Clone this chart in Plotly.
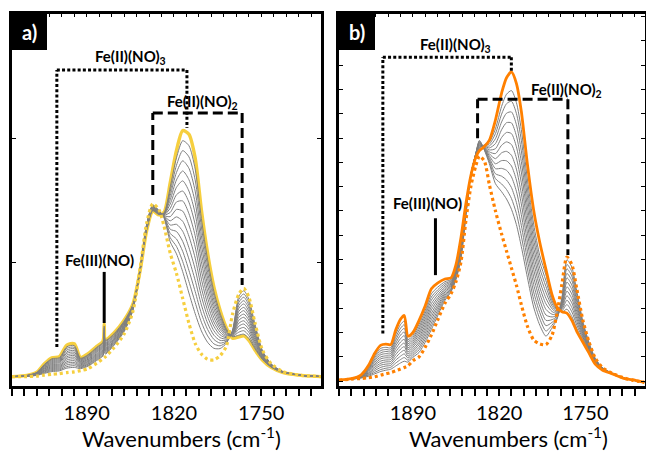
import plotly.graph_objects as go

W, H = 646, 452

# ---------------- panel a: Fe/zeolite under NO, yellow series ----------------
wn_a = [1950, 1938, 1930, 1924, 1918, 1912, 1906, 1900, 1895, 1889, 1882, 1877, 1876, 1875,
        1868, 1860, 1853, 1847, 1842, 1837, 1832, 1828, 1823, 1818, 1813, 1808, 1803, 1798,
        1793, 1788, 1783, 1778, 1773, 1768, 1764, 1760, 1755, 1749, 1742, 1733, 1720, 1702]

init_a = [3.8, 3.8, 4.0, 4.4, 4.7, 5.0, 5.4, 5.7, 6.2, 7.0, 9.2, 11.0, 11.4, 11.8,
          15.5, 21.0, 30.0, 48.0, 65.5, 73.5, 71.0, 64.5, 53.5, 45.4, 35.3, 25.3, 17.2, 12.9,
          10.8, 10.5, 12.2, 16.0, 29.0, 37.0, 39.4, 36.0, 25.5, 14.5, 9.0, 5.9, 4.4, 3.8]

final_a = [3.8, 4.3, 5.6, 9.0, 11.4, 11.8, 16.5, 17.0, 11.5, 13.0, 16.0, 18.0, 25.0, 18.8,
           21.5, 26.5, 33.0, 47.0, 62.5, 70.5, 69.0, 70.0, 82.0, 95.0, 103.0, 101.5, 92.0, 71.0,
           53.5, 40.0, 30.5, 23.5, 19.3, 19.8, 20.2, 18.5, 14.5, 10.5, 7.5, 5.5, 4.4, 3.8]

# one row per wavenumber of wn_a, one column per intermediate spectrum
gray_a_rows = [
    [3.8, 3.8, 3.8, 3.8, 3.8, 3.8, 3.8, 3.8, 3.8, 3.8, 3.8, 3.8, 3.8, 3.8],
    [3.9, 3.9, 4.0, 4.0, 4.0, 4.0, 4.1, 4.1, 4.1, 4.2, 4.2, 4.2, 4.2, 4.3],
    [4.3, 4.4, 4.4, 4.5, 4.6, 4.7, 4.8, 4.9, 5.0, 5.1, 5.2, 5.3, 5.4, 5.5],
    [5.1, 5.4, 5.7, 6.0, 6.2, 6.5, 6.8, 7.1, 7.3, 7.6, 7.9, 8.2, 8.5, 8.7],
    [5.8, 6.2, 6.6, 7.0, 7.4, 7.8, 8.2, 8.6, 9.0, 9.4, 9.8, 10.2, 10.6, 11.0],
    [6.1, 6.5, 6.9, 7.3, 7.7, 8.1, 8.5, 8.9, 9.4, 9.8, 10.2, 10.6, 11.0, 11.4],
    [7.2, 7.8, 8.5, 9.2, 9.8, 10.5, 11.2, 11.8, 12.5, 13.2, 13.8, 14.5, 15.2, 15.8],
    [7.5, 8.2, 8.9, 9.5, 10.2, 10.9, 11.6, 12.3, 12.9, 13.6, 14.3, 15.0, 15.6, 16.3],
    [7.0, 7.4, 7.7, 8.0, 8.3, 8.6, 9.0, 9.3, 9.6, 9.9, 10.2, 10.6, 10.9, 11.2],
    [8.0, 8.3, 8.7, 9.0, 9.4, 9.8, 10.1, 10.5, 10.8, 11.2, 11.6, 11.9, 12.3, 12.6],
    [10.3, 10.7, 11.1, 11.5, 11.9, 12.3, 12.7, 13.1, 13.6, 14.0, 14.4, 14.8, 15.2, 15.6],
    [12.1, 12.5, 13.0, 13.4, 13.8, 14.2, 14.6, 15.1, 15.5, 15.9, 16.3, 16.7, 17.2, 17.6],
    [13.6, 14.4, 15.2, 16.0, 16.8, 17.7, 18.5, 19.3, 20.1, 20.9, 21.7, 22.6, 23.4, 24.2],
    [12.9, 13.3, 13.8, 14.2, 14.6, 15.0, 15.4, 15.9, 16.3, 16.7, 17.1, 17.5, 18.0, 18.4],
    [16.5, 16.8, 17.2, 17.5, 17.9, 18.3, 18.6, 19.0, 19.3, 19.7, 20.1, 20.4, 20.8, 21.1],
    [21.9, 22.2, 22.5, 22.9, 23.2, 23.5, 23.9, 24.2, 24.5, 24.9, 25.2, 25.5, 25.8, 26.2],
    [30.5, 30.7, 30.8, 31.0, 31.2, 31.4, 31.6, 31.7, 31.9, 32.1, 32.3, 32.5, 32.6, 32.8],
    [47.8, 47.8, 47.7, 47.7, 47.6, 47.5, 47.5, 47.4, 47.4, 47.3, 47.2, 47.2, 47.1, 47.1],
    [65.0, 64.8, 64.7, 64.5, 64.3, 64.1, 63.9, 63.8, 63.6, 63.4, 63.2, 63.0, 62.9, 62.7],
    [73.0, 72.8, 72.7, 72.5, 72.3, 72.1, 71.9, 71.8, 71.6, 71.4, 71.2, 71.0, 70.9, 70.7],
    [70.7, 70.6, 70.4, 70.3, 70.2, 70.1, 70.0, 69.8, 69.7, 69.6, 69.5, 69.4, 69.2, 69.1],
    [67.8, 68.0, 68.1, 68.3, 68.4, 68.6, 68.7, 68.9, 69.0, 69.2, 69.3, 69.5, 69.6, 69.8],
    [58.1, 59.8, 61.5, 63.2, 64.9, 66.6, 68.3, 70.0, 71.7, 73.4, 75.1, 76.8, 78.5, 80.3],
    [53.3, 56.3, 59.3, 62.3, 65.2, 68.2, 71.2, 74.2, 77.1, 80.1, 83.1, 86.1, 89.0, 92.0],
    [46.1, 50.2, 54.3, 58.3, 62.4, 66.4, 70.5, 74.6, 78.6, 82.7, 86.7, 90.8, 94.9, 98.9],
    [37.5, 42.1, 46.6, 51.2, 55.8, 60.4, 64.9, 69.5, 74.1, 78.6, 83.2, 87.8, 92.4, 96.9],
    [29.2, 33.7, 38.1, 42.6, 47.1, 51.6, 56.1, 60.6, 65.1, 69.6, 74.1, 78.6, 83.1, 87.5],
    [22.2, 25.7, 29.2, 32.7, 36.2, 39.6, 43.1, 46.6, 50.1, 53.6, 57.1, 60.6, 64.1, 67.5],
    [17.6, 20.2, 22.8, 25.3, 27.9, 30.4, 33.0, 35.6, 38.1, 40.7, 43.3, 45.8, 48.4, 50.9],
    [15.2, 17.0, 18.8, 20.5, 22.3, 24.1, 25.8, 27.6, 29.4, 31.2, 32.9, 34.7, 36.5, 38.2],
    [15.1, 16.2, 17.3, 18.4, 19.5, 20.6, 21.7, 22.8, 23.9, 25.0, 26.1, 27.2, 28.3, 29.4],
    [17.2, 17.7, 18.1, 18.6, 19.0, 19.5, 19.9, 20.4, 20.8, 21.3, 21.7, 22.2, 22.6, 23.1],
    [22.5, 22.3, 22.1, 21.9, 21.7, 21.5, 21.3, 21.1, 20.9, 20.7, 20.5, 20.3, 20.1, 19.9],
    [36.1, 34.9, 33.7, 32.5, 31.3, 30.1, 28.9, 27.7, 26.5, 25.3, 24.1, 22.9, 21.7, 20.5],
    [38.4, 37.1, 35.8, 34.4, 33.1, 31.7, 30.4, 29.0, 27.7, 26.3, 25.0, 23.6, 22.3, 20.9],
    [35.1, 33.9, 32.7, 31.5, 30.2, 29.0, 27.8, 26.6, 25.3, 24.1, 22.9, 21.7, 20.4, 19.2],
    [25.0, 24.2, 23.4, 22.6, 21.9, 21.1, 20.3, 19.6, 18.8, 18.0, 17.3, 16.5, 15.7, 15.0],
    [14.3, 14.0, 13.7, 13.5, 13.2, 12.9, 12.6, 12.3, 12.1, 11.8, 11.5, 11.2, 10.9, 10.7],
    [8.9, 8.8, 8.7, 8.6, 8.5, 8.4, 8.3, 8.2, 8.1, 8.0, 7.9, 7.8, 7.7, 7.6],
    [5.9, 5.9, 5.8, 5.8, 5.8, 5.8, 5.7, 5.7, 5.7, 5.7, 5.6, 5.6, 5.6, 5.5],
    [4.4, 4.4, 4.4, 4.4, 4.4, 4.4, 4.4, 4.4, 4.4, 4.4, 4.4, 4.4, 4.4, 4.4],
    [3.8, 3.8, 3.8, 3.8, 3.8, 3.8, 3.8, 3.8, 3.8, 3.8, 3.8, 3.8, 3.8, 3.8],
]

# ---------------- panel b: orange series ----------------
wn_b = [1950, 1940, 1932, 1926, 1921, 1916, 1912, 1908, 1904, 1900, 1897,
        1894, 1890, 1885, 1880, 1875, 1870, 1864, 1859, 1855,
        1851, 1847, 1843, 1839, 1836, 1832, 1828, 1823, 1818, 1814,
        1810, 1806, 1802, 1797, 1792, 1787, 1782, 1777, 1773, 1769,
        1765, 1761, 1757, 1752, 1747, 1742, 1736, 1728, 1718, 1712, 1702]

init_b = [0.4, 0.8, 1.1, 1.4, 1.8, 2.5, 3.0, 3.5, 4.2, 5.0, 5.6,
          6.3, 8.4, 10.0, 14.0, 19.0, 25.0, 32.0, 36.0, 41.0,
          49.0, 66.0, 80.0, 88.5, 92.5, 90.5, 81.0, 70.0, 60.5, 53.5,
          46.5, 39.5, 31.5, 22.5, 17.0, 15.3, 15.0, 19.0, 28.0, 40.0,
          51.0, 48.0, 38.0, 25.0, 16.0, 9.5, 5.5, 3.2, 1.2, 0.4, -0.5]

final_b = [0.4, 1.0, 2.6, 6.5, 11.5, 14.8, 15.2, 15.0, 21.0, 25.5, 27.0,
           18.5, 20.0, 25.0, 31.0, 38.0, 40.3, 42.0, 42.5, 48.0,
           59.0, 73.0, 84.5, 92.0, 94.8, 96.5, 99.0, 107.4, 118.5, 124.8,
           127.2, 122.5, 111.0, 89.0, 70.4, 57.0, 46.0, 35.5, 30.5, 28.5,
           28.0, 25.0, 20.5, 16.0, 11.5, 7.0, 4.5, 3.0, 1.0, 0.6, -0.5]

gray_b_rows = [
    [0.4, 0.4, 0.4, 0.4, 0.4, 0.4, 0.4, 0.4, 0.4, 0.4, 0.4, 0.4],
    [0.8, 0.8, 0.9, 0.9, 0.9, 0.9, 0.9, 0.9, 0.9, 0.9, 1.0, 1.0],
    [1.3, 1.4, 1.5, 1.6, 1.7, 1.8, 1.9, 2.0, 2.1, 2.2, 2.3, 2.4],
    [2.0, 2.4, 2.7, 3.1, 3.4, 3.8, 4.2, 4.5, 4.9, 5.2, 5.6, 5.9],
    [3.0, 3.6, 4.3, 5.0, 5.7, 6.4, 7.0, 7.7, 8.4, 9.1, 9.8, 10.4],
    [4.0, 4.8, 5.7, 6.6, 7.4, 8.3, 9.2, 10.0, 10.9, 11.7, 12.6, 13.5],
    [4.5, 5.3, 6.2, 7.0, 7.9, 8.7, 9.6, 10.4, 11.3, 12.2, 13.0, 13.9],
    [4.9, 5.7, 6.5, 7.3, 8.1, 8.9, 9.7, 10.5, 11.3, 12.1, 12.9, 13.7],
    [6.2, 7.4, 8.6, 9.7, 10.9, 12.1, 13.3, 14.5, 15.6, 16.8, 18.0, 19.2],
    [7.5, 8.9, 10.3, 11.8, 13.2, 14.6, 16.1, 17.5, 19.0, 20.4, 21.8, 23.3],
    [8.2, 9.7, 11.2, 12.7, 14.2, 15.7, 17.2, 18.7, 20.2, 21.7, 23.2, 24.7],
    [7.8, 8.6, 9.5, 10.3, 11.2, 12.0, 12.9, 13.7, 14.6, 15.4, 16.3, 17.1],
    [9.8, 10.6, 11.4, 12.2, 13.0, 13.9, 14.7, 15.5, 16.3, 17.1, 17.9, 18.7],
    [11.8, 12.9, 13.9, 15.0, 16.0, 17.1, 18.1, 19.2, 20.2, 21.3, 22.3, 23.4],
    [16.0, 17.2, 18.4, 19.6, 20.8, 22.0, 23.2, 24.4, 25.6, 26.8, 28.0, 29.1],
    [21.3, 22.6, 23.9, 25.3, 26.6, 27.9, 29.3, 30.6, 31.9, 33.3, 34.6, 35.9],
    [26.8, 27.9, 29.0, 30.1, 31.1, 32.2, 33.3, 34.3, 35.4, 36.5, 37.5, 38.6],
    [33.2, 33.9, 34.6, 35.3, 36.0, 36.7, 37.4, 38.1, 38.8, 39.5, 40.2, 40.9],
    [36.8, 37.2, 37.7, 38.1, 38.6, 39.1, 39.5, 40.0, 40.4, 40.9, 41.3, 41.8],
    [41.8, 42.3, 42.8, 43.3, 43.8, 44.3, 44.8, 45.3, 45.8, 46.3, 46.8, 47.3],
    [50.2, 50.9, 51.6, 52.3, 53.0, 53.7, 54.4, 55.1, 55.8, 56.5, 57.2, 57.9],
    [68.1, 68.5, 68.9, 69.3, 69.6, 70.0, 70.4, 70.8, 71.2, 71.6, 71.9, 72.3],
    [85.0, 85.0, 84.9, 84.9, 84.8, 84.8, 84.7, 84.7, 84.6, 84.6, 84.5, 84.5],
    [93.5, 93.5, 93.4, 93.4, 93.3, 93.3, 93.2, 93.1, 93.0, 92.9, 92.8, 92.7],
    [99.0, 98.7, 98.4, 98.1, 97.8, 97.5, 97.2, 96.9, 96.6, 96.3, 96.0, 95.7],
    [95.0, 95.2, 95.4, 95.6, 95.8, 96.0, 96.2, 96.4, 96.6, 96.8, 97.0, 97.2],
    [89.5, 90.3, 91.1, 91.9, 92.7, 93.5, 94.3, 95.1, 95.9, 96.7, 97.5, 98.3],
    [81.2, 83.3, 85.3, 87.4, 89.4, 91.5, 93.6, 95.6, 97.7, 99.7, 101.8, 103.8],
    [77.9, 81.1, 84.3, 87.5, 90.7, 93.9, 97.0, 100.2, 103.4, 106.6, 109.8, 113.0],
    [74.9, 78.8, 82.7, 86.7, 90.6, 94.5, 98.4, 102.3, 106.3, 110.2, 114.1, 118.0],
    [70.7, 75.1, 79.6, 84.0, 88.5, 92.9, 97.3, 101.8, 106.2, 110.7, 115.1, 119.5],
    [64.4, 69.0, 73.5, 78.1, 82.7, 87.2, 91.8, 96.4, 100.9, 105.5, 110.1, 114.6],
    [55.4, 59.7, 64.1, 68.5, 72.9, 77.2, 81.6, 86.0, 90.3, 94.7, 99.1, 103.5],
    [42.5, 46.1, 49.8, 53.4, 57.1, 60.8, 64.4, 68.1, 71.7, 75.4, 79.0, 82.7],
    [30.5, 33.6, 36.7, 39.8, 42.9, 46.0, 49.1, 52.2, 55.3, 58.4, 61.5, 64.6],
    [23.0, 25.6, 28.2, 30.8, 33.4, 36.0, 38.6, 41.2, 43.8, 46.4, 49.0, 51.6],
    [18.5, 20.6, 22.8, 25.0, 27.2, 29.5, 31.8, 34.1, 36.5, 38.9, 41.3, 43.7],
    [22.0, 23.1, 24.2, 25.3, 26.4, 27.5, 28.6, 29.7, 30.8, 31.9, 33.0, 34.1],
    [25.5, 25.9, 26.3, 26.7, 27.1, 27.5, 27.9, 28.3, 28.7, 29.1, 29.5, 29.9],
    [34.5, 33.9, 33.4, 32.8, 32.3, 31.7, 31.2, 30.6, 30.1, 29.5, 29.0, 28.4],
    [49.9, 48.0, 46.2, 44.3, 42.5, 40.7, 38.8, 37.0, 35.1, 33.3, 31.5, 29.6],
    [46.9, 45.0, 43.2, 41.4, 39.5, 37.7, 35.8, 34.0, 32.2, 30.3, 28.5, 26.6],
    [37.1, 35.7, 34.3, 32.9, 31.5, 30.1, 28.7, 27.3, 25.9, 24.5, 23.1, 21.7],
    [24.6, 23.8, 23.1, 22.4, 21.7, 21.0, 20.2, 19.5, 18.8, 18.1, 17.4, 16.6],
    [15.8, 15.4, 15.1, 14.7, 14.3, 14.0, 13.6, 13.3, 12.9, 12.5, 12.2, 11.8],
    [9.4, 9.2, 9.0, 8.8, 8.6, 8.4, 8.2, 8.0, 7.8, 7.6, 7.4, 7.2],
    [5.5, 5.4, 5.3, 5.2, 5.2, 5.1, 5.0, 4.9, 4.8, 4.8, 4.7, 4.6],
    [3.2, 3.2, 3.2, 3.2, 3.1, 3.1, 3.1, 3.1, 3.1, 3.0, 3.0, 3.0],
    [1.2, 1.2, 1.2, 1.2, 1.1, 1.1, 1.1, 1.1, 1.1, 1.0, 1.0, 1.0],
    [0.4, 0.4, 0.5, 0.5, 0.5, 0.5, 0.5, 0.5, 0.5, 0.6, 0.6, 0.6],
    [-0.5, -0.5, -0.5, -0.5, -0.5, -0.5, -0.5, -0.5, -0.5, -0.5, -0.5, -0.5],
]

labelled_ticks = [1890, 1820, 1750]

FONT = "Lato"
GRAY = "#7f7f7f"
YELLOW = "#F6CF3F"
ORANGE = "#FF8000"


def px(x):
    return x / W


def py(y):
    return 1 - y / H


fig = go.Figure()


def spectra_from_rows(rows):
    return [list(col) for col in zip(*rows)]


def line(wn, vals, xa, ya, color, width, dash=None):
    fig.add_trace(go.Scatter(
        x=wn, y=vals, xaxis=xa, yaxis=ya, mode="lines",
        line=dict(color=color, width=width, dash=dash, shape="spline", smoothing=0.7),
        showlegend=False, hoverinfo="skip"))


# panel a: final spectrum underneath, intermediate spectra, initial spectrum dotted on top
line(wn_a, final_a, "x", "y", YELLOW, 3.4)
for spec in spectra_from_rows(gray_a_rows):
    line(wn_a, spec, "x", "y", GRAY, 1.0)
line(wn_a, init_a, "x", "y", YELLOW, 3.2, "3px,3px")

# panel b: intermediate spectra, final spectrum on top, initial spectrum dotted
for spec in spectra_from_rows(gray_b_rows):
    line(wn_b, spec, "x2", "y2", GRAY, 1.0)
line(wn_b, final_b, "x2", "y2", ORANGE, 2.8)
line(wn_b, init_b, "x2", "y2", ORANGE, 3.2, "3px,3px")

# empty traces that hold the top tick rows of each frame
for xa, ya in (("x3", "y"), ("x4", "y2")):
    fig.add_trace(go.Scatter(x=[], y=[], xaxis=xa, yaxis=ya, mode="lines",
                             showlegend=False, hoverinfo="skip"))

ydom = [py(386), py(14)]
xdom_a = [px(12), px(321)]
xdom_b = [px(339), px(644.5)]
XRANGE = [1950, 1702]

xaxis_common = dict(
    range=XRANGE, tickmode="array", tickvals=labelled_ticks,
    ticktext=[str(v) for v in labelled_ticks],
    ticks="outside", ticklen=7, tickwidth=2, tickcolor="black",
    minor=dict(ticks="outside", ticklen=7, tickwidth=2, tickcolor="black",
               tickmode="linear", tick0=1700, dtick=10, showgrid=False),
    showline=True, linecolor="black", linewidth=2.8, mirror=True,
    showgrid=False, zeroline=False,
    tickfont=dict(family=FONT, size=20, color="black"),
)
top_common = dict(
    range=XRANGE, side="top", ticks="inside", ticklen=3, tickwidth=1.2, tickcolor="black",
    tickmode="linear", tick0=1700, dtick=10, showticklabels=False,
    showline=False, showgrid=False, zeroline=False,
)
yaxis_common = dict(
    ticks="inside", ticklen=4, tickwidth=1.2, tickcolor="black",
    showline=True, linecolor="black", linewidth=2.8, mirror="ticks",
    showgrid=False, zeroline=False, showticklabels=False, tick0=0,
)

fig.update_layout(
    width=W, height=H, margin=dict(l=0, r=0, t=0, b=0),
    paper_bgcolor="white", plot_bgcolor="white",
    xaxis=dict(domain=xdom_a, anchor="y", **xaxis_common),
    yaxis=dict(domain=ydom, anchor="x", range=[0, 150], dtick=50, **yaxis_common),
    xaxis2=dict(domain=xdom_b, anchor="y2", **xaxis_common),
    yaxis2=dict(domain=ydom, anchor="x2", range=[-2, 151], dtick=10, **yaxis_common),
    xaxis3=dict(domain=xdom_a, anchor="y", overlaying="x", **top_common),
    xaxis4=dict(domain=xdom_b, anchor="y2", overlaying="x2", **top_common),
)

shapes = []
ann = []

DOT = dict(color="black", width=3, dash="3px,2.2px")
DASH = dict(color="black", width=3, dash="10px,5px")


def seg(xr, yr, x0, y0, x1, y1, style):
    shapes.append(dict(type="line", xref=xr, yref=yr, x0=x0, y0=y0, x1=x1, y1=y1,
                       line=style, layer="above"))


def label(x, y, text, size=15):
    ann.append(dict(xref="paper", yref="paper", x=px(x), y=py(y), text="<b>" + text + "</b>",
                    showarrow=False, font=dict(family=FONT, size=size, color="black"),
                    xanchor="center", yanchor="middle"))


# panel a band markers
seg("x", "y", 1914, 15.7, 1914, 127.4, DOT)
seg("x", "y", 1914, 127.4, 1809.6, 127.4, DOT)
seg("x", "y", 1809.6, 127.4, 1809.6, 104.0, DOT)
seg("x", "y", 1837, 77.0, 1837, 110.1, DASH)
seg("x", "y", 1837, 110.1, 1765.3, 110.1, DASH)
seg("x", "y", 1765.3, 110.1, 1765.3, 40.7, DASH)
seg("x", "y", 1876, 25.4, 1876, 46.0, dict(color="black", width=3))

# panel b band markers
seg("x2", "y2", 1914.4, 19.6, 1914.4, 133.2, DOT)
seg("x2", "y2", 1914.4, 133.2, 1810.1, 133.2, DOT)
seg("x2", "y2", 1810.1, 133.2, 1810.1, 127.7, DOT)
seg("x2", "y2", 1837.5, 99.9, 1837.5, 115.9, DASH)
seg("x2", "y2", 1837.5, 115.9, 1764.2, 115.9, DASH)
seg("x2", "y2", 1764.2, 115.9, 1764.2, 51.9, DASH)
seg("x2", "y2", 1871.7, 43.6, 1871.7, 67.0, dict(color="black", width=3))

label(130, 57, "Fe(II)(NO)<sub>3</sub>")
label(202, 102, "Fe(II)(NO)<sub>2</sub>")
label(99, 260, "Fe(III)(NO)")
label(455, 45, "Fe(II)(NO)<sub>3</sub>")
label(566, 90, "Fe(II)(NO)<sub>2</sub>")
label(427, 203, "Fe(III)(NO)")

# panel tags in black boxes
for (x0, x1, tag) in [(12, 47, "a)"), (339, 375, "b)")]:
    shapes.append(dict(type="rect", xref="paper", yref="paper", x0=px(x0), x1=px(x1),
                       y0=py(50), y1=py(14), fillcolor="black", line=dict(width=0)))
    ann.append(dict(xref="paper", yref="paper", x=px((x0 + x1) / 2), y=py(32),
                    text="<b>" + tag + "</b>", showarrow=False,
                    font=dict(family=FONT, size=20, color="white"),
                    xanchor="center", yanchor="middle"))

# axis titles
for cx in (181, 508):
    ann.append(dict(xref="paper", yref="paper", x=px(cx), y=py(437),
                    text="Wavenumbers (cm<sup>-1</sup>)", showarrow=False,
                    font=dict(family=FONT, size=22, color="black"),
                    xanchor="center", yanchor="middle"))

fig.update_layout(shapes=shapes, annotations=ann)
fig.write_html("out.html")
